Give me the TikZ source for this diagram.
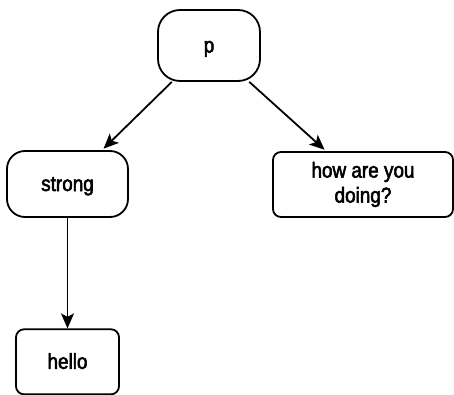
\documentclass[tikz,border=0pt]{standalone}
\usepackage{fontspec}
\setmainfont{Liberation Sans}[FakeStretch=0.88,FakeBold=2.5]
\usepackage{tikz}
\usetikzlibrary{arrows.meta,positioning}
\tikzset{
  tagnode/.style = {align=center, inner sep=0pt, rectangle, draw=black, fill=white, text
  centered, font=\fontsize{21.5}{25}\selectfont},
  tag_r/.style = {tagnode, rounded corners=18pt},
  tag_s/.style = {tagnode, rounded corners=8pt},
  tag_one/.style = {text height=18pt, text depth=4pt}
}

\begin{document}
\begin{tikzpicture}[x=1pt,y=1pt,line width=1.8pt,
        -{Stealth[length=15pt,width=13pt,inset=3.5pt]}]
            \useasboundingbox (0,0) rectangle (454,-395);
            \node [tag_r, tag_one, rounded corners=22pt, minimum width=102pt, minimum height=71pt] (p) at (209,-45.5) {p};
            \node [tag_r, tag_one, minimum width=121pt, minimum height=66pt] (strong) at (67.5,-184) {strong};
            \node [tag_s, minimum width=180pt, minimum height=65pt] (how) at (363,-184.5) {how are you\\doing?};
            \node [tag_s, tag_one, minimum width=103pt, minimum height=65pt, below=110.5pt of strong] (hello) {hello};
            \draw [shorten >=2pt] (p) -- (strong);
            \draw [shorten >=2pt] (p) -- (how);
            \draw (strong) -- (hello);
        \end{tikzpicture}
\end{document}
